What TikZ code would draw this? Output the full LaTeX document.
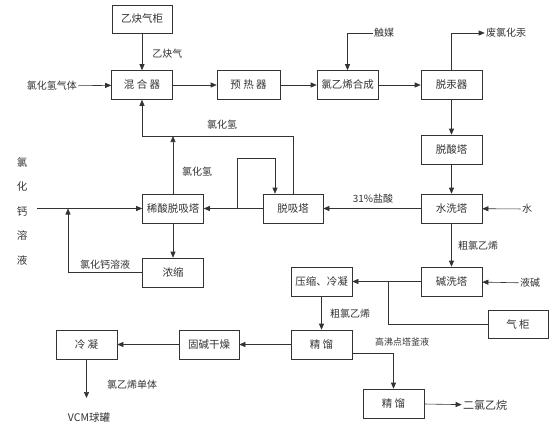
\documentclass[tikz,border=0pt]{standalone}
\usepackage{fontspec}
\setmainfont{Noto Sans CJK SC}
\usetikzlibrary{arrows.meta}
\begin{document}
\begin{tikzpicture}[x=1pt,y=-1pt, color=black!80,
  every path/.style={line width=0.6pt},
  box/.style={draw, minimum width=61pt, minimum height=29pt, inner sep=0pt, font=\fontsize{10.5}{12}\selectfont},
  lbl/.style={inner sep=1pt, font=\fontsize{10}{12}\selectfont},
  arr/.style={-{Triangle[length=6pt,width=5pt]}}]
\useasboundingbox (0,0) rectangle (554,434);
% boxes
\node[box, minimum width=60pt, minimum height=28pt] (gh) at (142,19) {乙炔气柜};
\node[box] (mix) at (142,85) {混\ 合\ 器};
\node[box, minimum width=63pt] (pre) at (248.5,85) {预\ 热\ 器};
\node[box] (syn) at (347.5,85) {氯乙烯合成};
\node[box] (dehg) at (451.5,85) {脱汞器};
\node[box] (deacid) at (451.5,149.5) {脱酸塔};
\node[box] (wash) at (451.5,208.5) {水洗塔};
\node[box, minimum width=60pt] (desorb) at (293,208.5) {脱吸塔};
\node[box] (dilute) at (173,208.5) {稀酸脱吸塔};
\node[box] (conc) at (173,272.5) {浓缩};
\node[box] (alkali) at (451.5,281.5) {碱洗塔};
\node[box] (comp) at (321.5,281.5) {压缩、冷凝};
\node[box, minimum width=60pt, minimum height=28pt] (gasb) at (518,324) {气\ 柜};
\node[box] (rect1) at (321.5,344.5) {精\ 馏};
\node[box, minimum width=60pt] (dry) at (209,344.5) {固碱干燥};
\node[box] (cond) at (86.5,344.5) {冷\ 凝};
\node[box] (rect2) at (393.5,403.5) {精\ 馏};
% labels
\node[lbl, anchor=west] (lc2h2) at (151,54) {乙炔气};
\node[lbl] (lhclgas) at (52,86) {氯化氢气体};
\node[lbl] (lhcl1) at (222,125) {氯化氢};
\node[lbl] (lhcl2) at (197,172) {氯化氢};
\node[inner sep=0pt, align=center, font=\fontsize{10.5}{24.5}\selectfont] (lcacl) at (22,211) {氯\\化\\钙\\溶\\液};
\node[lbl] (lcacl2) at (105,265) {氯化钙溶液};
\node[lbl] (lcat) at (384,33) {触媒};
\node[lbl] (lwaste) at (506,33) {废氯化汞};
\node[lbl] (lwater) at (527,209) {水};
\node[lbl] (lacid) at (373,199) {31\%盐酸};
\node[lbl] (lcrude1) at (478,246) {粗氯乙烯};
\node[lbl] (lnaoh) at (530,283) {液碱};
\node[lbl] (lcrude2) at (350,314) {粗氯乙烯};
\node[lbl, font=\fontsize{9}{11}\selectfont] (lhigh) at (402,342) {高沸点塔釜液};
\node[lbl, font=\fontsize{11}{12}\selectfont] (ledc) at (485,405) {二氯乙烷};
\node[lbl] (lvcm) at (132,385) {氯乙烯单体};
\node[lbl, font=\fontsize{10.5}{12}\selectfont] (ltank) at (89,417) {VCM球罐};
% coordinates
\coordinate (hc) at (142,136);
\coordinate (lpa) at (237,208.5);
\coordinate (lpb) at (275,158);
\coordinate (cin) at (37,208.5);
\coordinate (cj) at (68,208.5);
\coordinate (gj) at (388,281.5);
\coordinate (vc) at (86.5,398);
% connectors
\draw[arr] (gh) -- (mix);
\draw[arr] (lhclgas) -- (mix);
\draw[arr] (mix) -- (pre);
\draw[arr] (pre) -- (syn);
\draw[arr] (syn) -- (dehg);
\draw[arr] (lcat.west) -| (syn.north);
\draw[arr] (dehg.north) |- (lwaste.west);
\draw[arr] (dehg) -- (deacid);
\draw[arr] (deacid) -- (wash);
\draw[arr] (lwater) -- (wash);
\draw[arr] (wash) -- (desorb);
\draw[arr] (desorb) -- (dilute);
\draw[arr] (lpa) |- (lpb) -- (lpb |- desorb.north);
\draw[arr] (desorb.north) |- (hc) -- (mix.south);
\draw[arr] (dilute.north) -- (dilute.north |- hc);
\draw[arr] (dilute) -- (conc);
\draw[arr] (cin) -- (dilute.west);
\draw[arr] (conc.west) -| (cj);
\draw[arr] (wash) -- (alkali);
\draw[arr] (lnaoh) -- (alkali);
\draw[arr] (alkali) -- (comp);
\draw (gj) |- (gasb.west);
\draw[arr] (comp) -- (rect1);
\draw[arr] (rect1) -- (dry);
\draw[arr] (dry) -- (cond);
\draw[arr] ([yshift=-8.5pt]rect1.east) -| (rect2.north);
\draw[arr] (rect2) -- (ledc);
\draw[arr] (cond) -- (vc);
\end{tikzpicture}
\end{document}
